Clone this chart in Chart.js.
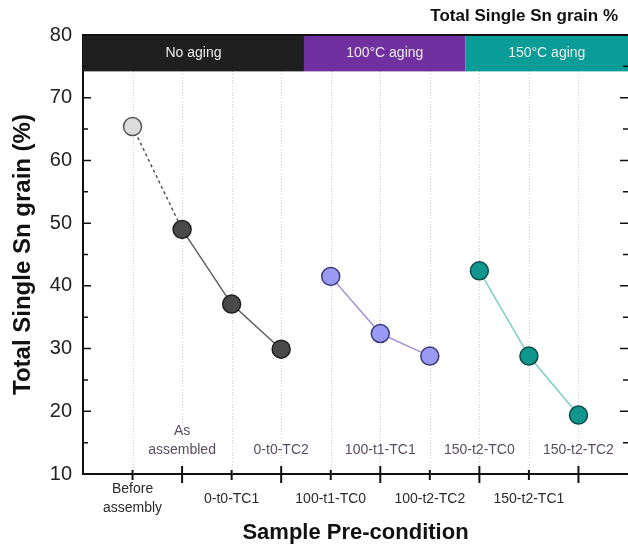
<!DOCTYPE html>
<html>
<head>
<meta charset="utf-8">
<script src="https://cdn.jsdelivr.net/npm/chart.js@4.4.1/dist/chart.umd.min.js"></script>
<style>
  html, body { margin: 0; padding: 0; background: #fff; }
</style>
</head>
<body>
<canvas id="chart" width="628" height="547"></canvas>
<script>
// sample pre-conditions, in axis order (even ones under the axis, odd ones above it)
const categories = ['Before assembly', 'As assembled', '0-t0-TC1', '0-t0-TC2', '100-t1-TC0',
                    '100-t1-TC1', '100-t2-TC2', '150-t2-TC0', '150-t2-TC1', '150-t2-TC2'];

// total single Sn grain (%)
const beforeAssembly = [65.4];
const noAging = [49.0, 37.1, 29.9];
const aging100 = [41.5, 32.4, 28.8];
const aging150 = [42.4, 28.8, 19.4];

const yTickLabels = [10, 20, 30, 40, 50, 60, 70, 80];
const bandNames = ['No aging', '100\u00B0C aging', '150\u00B0C aging'];

const FONT = 'Arial, "Liberation Sans", sans-serif';

// blank slot at each end so the points sit one step in from the frame
const labels = [''].concat(categories, ['']);

// put a group's values at its place on the axis, nulls elsewhere
function place(values, start) {
  const out = labels.map(() => null);
  values.forEach((v, i) => { out[start + 1 + i] = v; });
  return out;
}

const dashedPart = place([beforeAssembly[0], noAging[0]], 0);

const decor = {
  id: 'decor',
  beforeDatasetsDraw(chart) {
    const { ctx, chartArea: a, scales: { x, y } } = chart;
    ctx.save();

    // dotted vertical guides at each sample
    ctx.strokeStyle = '#d2d2d2';
    ctx.lineWidth = 1;
    ctx.setLineDash([1, 2]);
    categories.forEach((c, i) => {
      const px = Math.round(x.getPixelForValue(i + 1)) + 0.5;
      ctx.beginPath();
      ctx.moveTo(px, a.top);
      ctx.lineTo(px, a.bottom);
      ctx.stroke();
    });
    ctx.setLineDash([]);

    // aging bands along the top
    const edges = [-1, 3.46, 6.72, 10];
    const colors = ['#1f1f1f', '#7030a0', '#0a9c96'];
    const top = y.getPixelForValue(80);
    const bot = y.getPixelForValue(74.2);
    bandNames.forEach((name, i) => {
      const x0 = x.getPixelForValue(edges[i] + 1);
      const x1 = x.getPixelForValue(edges[i + 1] + 1);
      ctx.fillStyle = colors[i];
      ctx.fillRect(x0, top, x1 - x0, bot - top);
      ctx.fillStyle = '#ececec';
      ctx.font = '14px ' + FONT;
      ctx.textAlign = 'center';
      ctx.textBaseline = 'middle';
      ctx.fillText(name, (x0 + x1) / 2, (top + bot) / 2);
    });
    ctx.strokeStyle = '#111';
    ctx.lineWidth = 2;
    ctx.beginPath();
    ctx.moveTo(a.left, top);
    ctx.lineTo(a.right, top);
    ctx.stroke();
    ctx.restore();
  },
  afterDraw(chart) {
    const { ctx, chartArea: a, scales: { x, y } } = chart;
    ctx.save();
    ctx.strokeStyle = '#111';
    ctx.lineWidth = 1.5;

    // inward y ticks on both sides
    y.ticks.forEach(t => {
      const py = y.getPixelForValue(t.value);
      const len = t.value % 10 === 0 ? 8 : 5;
      ctx.beginPath();
      ctx.moveTo(a.left, py);
      ctx.lineTo(a.left + len, py);
      ctx.moveTo(a.right, py);
      ctx.lineTo(a.right - len, py);
      ctx.stroke();
    });

    // x ticks crossing the axis, labels alternating below / above
    const axisY = a.bottom;
    ctx.lineWidth = 2;
    ctx.textAlign = 'center';
    ctx.textBaseline = 'middle';
    ctx.font = '14px ' + FONT;
    categories.forEach((c, i) => {
      const px = x.getPixelForValue(i + 1);
      const odd = i % 2 === 1;
      ctx.beginPath();
      ctx.moveTo(px, axisY - (odd ? 8 : 4));
      ctx.lineTo(px, axisY + (odd ? 9 : 6));
      ctx.stroke();

      const lines = c.split(' ');
      const lh = 19;
      if (odd) {
        ctx.fillStyle = '#5a4d63';
        lines.forEach((s, k) => {
          ctx.fillText(s, px, axisY - 24 - (lines.length - 1 - k) * lh);
        });
      } else {
        ctx.fillStyle = '#2a2a2a';
        const start = axisY + 25 - (lines.length - 1) * lh / 2;
        lines.forEach((s, k) => {
          ctx.fillText(s, px, start + k * lh);
        });
      }
    });

    // caption at top right
    ctx.fillStyle = '#111';
    ctx.font = 'bold 17px ' + FONT;
    ctx.textAlign = 'right';
    ctx.fillText('Total Single Sn grain %', 618, 16);
    ctx.restore();
  }
};

new Chart(document.getElementById('chart'), {
  type: 'line',
  data: {
    labels: labels,
    datasets: [
      {
        label: 'No aging',
        data: place(noAging, 1),
        borderColor: '#5f5f5f',
        borderWidth: 1.5,
        backgroundColor: '#4a4a4a',
        pointBorderColor: '#1e1e1e',
        pointBorderWidth: 1.5,
        pointRadius: 9,
        order: 1
      },
      {
        label: '100\u00B0C aging',
        data: place(aging100, 4),
        borderColor: '#a995d6',
        borderWidth: 1.5,
        backgroundColor: '#9a9af5',
        pointBorderColor: '#3a3a78',
        pointBorderWidth: 1.5,
        pointRadius: 9,
        order: 1
      },
      {
        label: '150\u00B0C aging',
        data: place(aging150, 7),
        borderColor: '#7ccfc6',
        borderWidth: 1.5,
        backgroundColor: '#10968c',
        pointBorderColor: '#0a4d48',
        pointBorderWidth: 1.5,
        pointRadius: 9,
        order: 1
      },
      {
        label: 'Before assembly',
        data: dashedPart,
        borderColor: '#555',
        borderWidth: 1.5,
        borderDash: [3, 3],
        backgroundColor: '#dcdcdc',
        pointBorderColor: '#555',
        pointBorderWidth: 1.5,
        pointRadius: dashedPart.map((v, i) => i === 1 ? 9 : 0),
        order: 2
      }
    ]
  },
  options: {
    responsive: false,
    animation: false,
    layout: { autoPadding: false, padding: { top: 35, right: 0, bottom: 0, left: 0 } },
    plugins: { legend: { display: false }, tooltip: { enabled: false } },
    scales: {
      x: {
        type: 'category',
        offset: false,
        grid: { display: false, drawTicks: false },
        border: { display: true, color: '#111', width: 2 },
        ticks: { display: false },
        title: {
          display: true,
          text: 'Sample Pre-condition',
          color: '#111',
          font: { family: FONT, size: 22, weight: 'bold' },
          padding: { top: 0, bottom: 1 }
        },
        afterFit: s => { s.height = 73; }
      },
      y: {
        min: 10,
        max: 80,
        grid: { display: false, drawTicks: false },
        border: { display: true, color: '#111', width: 2 },
        ticks: {
          stepSize: 5,
          padding: 11,
          color: '#222',
          font: { family: FONT, size: 20 },
          callback: v => yTickLabels.includes(v) ? v : ''
        },
        title: {
          display: true,
          text: 'Total Single Sn grain (%)',
          color: '#111',
          font: { family: FONT, size: 24, weight: 'bold' },
          padding: { top: 9, bottom: 0 }
        },
        afterFit: s => { s.width = 83; }
      }
    }
  },
  plugins: [decor]
});
</script>
</body>
</html>
